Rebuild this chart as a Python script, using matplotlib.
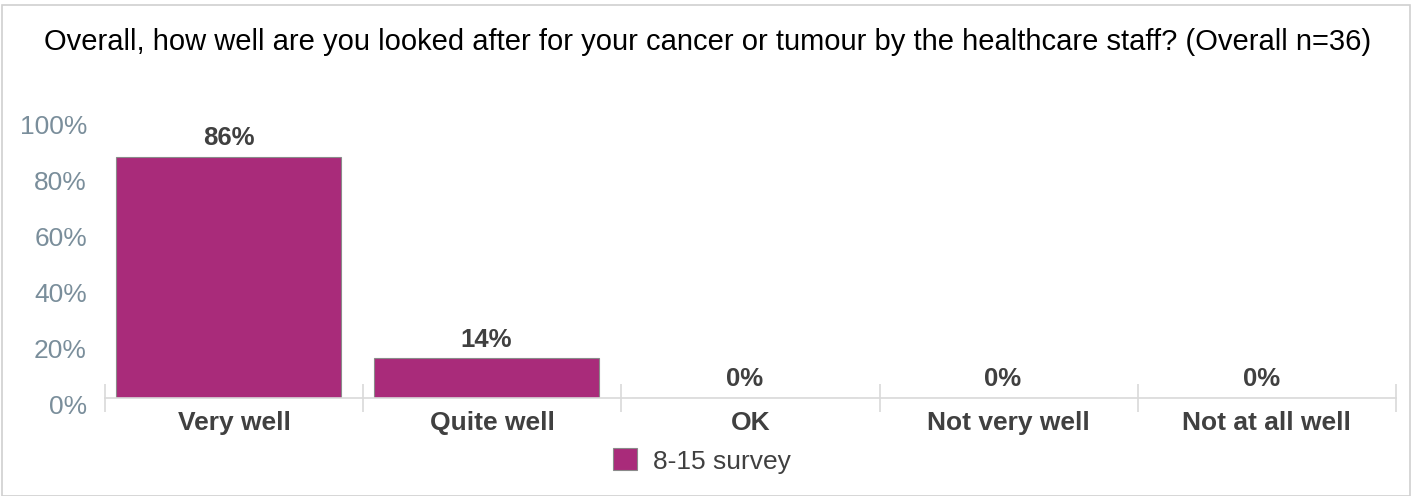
import matplotlib
matplotlib.use("Agg")
import matplotlib.pyplot as plt
from matplotlib.patches import Rectangle
import matplotlib.transforms as mtransforms

categories = ["Very well", "Quite well", "OK", "Not very well", "Not at all well"]
values = [86, 14, 0, 0, 0]
series_name = "8-15 survey"
yticks = [0, 20, 40, 60, 80, 100]
ytick_labels = ["0%", "20%", "40%", "60%", "80%", "100%"]
title = "Overall, how well are you looked after for your cancer or tumour by the healthcare staff? (Overall n=36)"

plt.rcParams['font.family'] = ['Liberation Sans', 'DejaVu Sans']

W, H = 1415, 496
fig = plt.figure(figsize=(W / 100, H / 100), dpi=100)

# outer frame
fig.patches.append(Rectangle((2 / W, 0), (1410 - 2) / W, 1 - 5 / H, transform=fig.transFigure,
                             fill=False, edgecolor="#d0d0d0", linewidth=1.2))

x0, x1 = 105, 1396
y0, y1 = 397.5, 117.5
ax = fig.add_axes([x0 / W, 1 - y0 / H, (x1 - x0) / W, (y0 - y1) / H])

bar_color = "#a92b7a"
bar_shift = -0.022
xs = list(range(len(categories)))
ax.bar([x + bar_shift for x in xs], values, width=0.872, color=bar_color, edgecolor="#8a8a8a",
       linewidth=0.8, label=series_name)
ax.set_xlim(-0.5, len(categories) - 0.5)
ax.set_ylim(0, 100)

for x, v in zip(xs, values):
    ax.annotate(f"{v}%", (x + bar_shift, v), xytext=(0, 4.5), textcoords="offset points", ha="center",
                va="bottom", fontsize=18.5, fontweight="bold", color="#404040")

for s in ["top", "right", "left"]:
    ax.spines[s].set_visible(False)
ax.spines["bottom"].set_color("#d9d9d9")
ax.spines["bottom"].set_linewidth(1.2)

ax.set_yticks(yticks)
ax.set_yticklabels(ytick_labels, fontsize=19, color="#7a8e9b")
ax.tick_params(axis="y", length=0, pad=13)
offset = mtransforms.ScaledTranslation(0, -7 / 100, fig.dpi_scale_trans)
for lbl in ax.get_yticklabels():
    lbl.set_transform(lbl.get_transform() + offset)

# category labels and boundary ticks
ax.set_xticks(xs)
ax.set_xticklabels(categories, fontsize=19, fontweight="bold", color="#404040")
ax.tick_params(axis="x", length=0, pad=10)
ax.set_xticks([i - 0.5 for i in range(len(categories) + 1)], minor=True)
ax.tick_params(axis="x", which="minor", direction="inout", length=20, color="#d9d9d9", width=1.2)

fig.text(0.5, 1 - 42 / H, title, ha="center", va="center", fontsize=21, color="#000000")

leg = fig.legend(loc="center", bbox_to_anchor=(702 / W, 1 - 461 / H), frameon=False, fontsize=19,
                 handlelength=0.9, handleheight=0.9, handletextpad=0.6, labelcolor="#404040")

fig.savefig("out.png", dpi=100)
